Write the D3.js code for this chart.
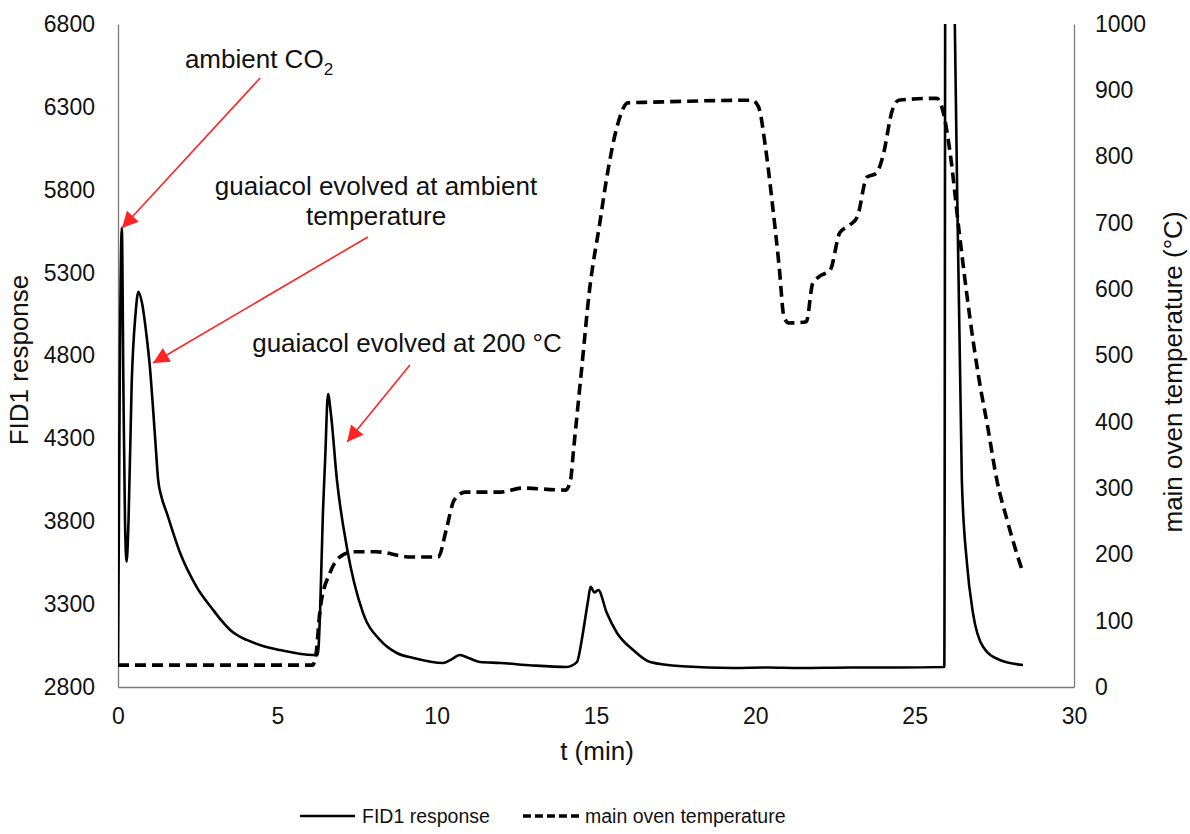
<!DOCTYPE html>
<html>
<head>
<meta charset="utf-8">
<script src="https://cdn.jsdelivr.net/npm/d3@7/dist/d3.min.js"></script>
<style>
  body { margin: 0; background: #fff; }
  svg { display: block; font-family: "Liberation Sans", Arial, sans-serif; }
</style>
</head>
<body>
<svg id="chart" width="1190" height="834"></svg>
<script>
// ---- data ----
const fidTime = [0, 0.06, 0.12, 0.17, 0.22, 0.27, 0.33, 0.43, 0.55, 0.64, 0.75, 0.9, 1.0, 1.1, 1.18, 1.26, 1.36, 1.53, 1.95, 2.47, 2.99, 3.25, 3.52, 3.78, 4.04, 4.5, 5.08, 6.13, 6.27, 6.34, 6.43, 6.5, 6.59, 6.68, 6.87, 7.18, 7.69, 8.22, 8.75, 9.27, 10.2, 10.45, 10.73, 11.0, 11.36, 12.0, 13.0, 14.08, 14.4, 14.55, 14.65, 14.75, 14.83, 14.95, 15.07, 15.34, 15.66, 16.17, 16.7, 17.7, 19.3, 20.4, 21.4, 23.0, 24.5, 25.93, 25.97, 26.14, 26.26, 26.48, 26.64, 26.83, 27.15, 27.67, 28.4];
const fidValue = [2930, 4800, 5570, 4600, 3800, 3556, 3800, 4634, 5050, 5185, 5120, 4913, 4731, 4480, 4260, 4049, 3950, 3850, 3608, 3403, 3264, 3200, 3144, 3108, 3084, 3050, 3023, 2993, 2995, 3246, 3850, 4170, 4568, 4450, 4049, 3645, 3246, 3084, 3005, 2975, 2945, 2965, 2993, 2975, 2951, 2945, 2930, 2921, 2950, 3080, 3200, 3320, 3405, 3370, 3385, 3246, 3126, 3023, 2951, 2925, 2915, 2918, 2915, 2918, 2918, 2921, 8200, 8200, 6800, 4049, 3548, 3246, 3041, 2963, 2933];

const tempTime = [0, 6.1, 6.2, 6.35, 6.65, 6.96, 7.4, 8.1, 9.2, 10.05, 10.3, 10.55, 10.9, 12.0, 12.7, 14.05, 14.2, 14.3, 14.55, 14.8, 15.12, 15.34, 15.66, 16.0, 16.7, 19.9, 20.1, 20.33, 20.52, 20.75, 20.9, 21.05, 21.6, 21.8, 22.0, 22.35, 22.65, 22.97, 23.2, 23.5, 23.8, 24.0, 24.3, 24.5, 25.7, 25.88, 26.1, 26.4, 26.73, 27.0, 27.3, 27.58, 27.9, 28.2, 28.4];
const tempValue = [33, 33, 45, 120, 172, 196, 204, 204, 196, 196, 237, 282, 294, 294, 300, 297, 312, 360, 480, 600, 700, 769, 845, 881, 882, 885, 875, 810, 735, 633, 558, 549, 551, 609, 619, 629, 685, 697, 709, 769, 775, 800, 870, 885, 888, 870, 810, 685, 558, 470, 390, 312, 252, 202, 172];

const xTicks = [0, 5, 10, 15, 20, 25, 30];
const yLeftTicks = [2800, 3300, 3800, 4300, 4800, 5300, 5800, 6300, 6800];
const yRightTicks = [0, 100, 200, 300, 400, 500, 600, 700, 800, 900, 1000];

const seriesNames = ["FID1 response", "main oven temperature"];
const xTitle = "t (min)";
const yLeftTitle = "FID1 response";
const yRightTitle = "main oven temperature (°C)";

// annotations in data coordinates (t, FID)
const annotations = [
  { lines: ["ambient CO|2"], tail: [4.46, 6474], tip: [0.125, 5569] },
  { lines: ["guaiacol evolved at ambient", "temperature"], tail: [7.84, 5515], tip: [1.10, 4755] },
  { lines: ["guaiacol evolved at 200 °C"], tail: [9.16, 4743], tip: [7.19, 4278] }
];

// ---- layout ----
const svg = d3.select("#chart");
const L = 118, R = 1074, T = 24, B = 687;

const x = d3.scaleLinear().domain([0, 30]).range([L, R]);
const yL = d3.scaleLinear().domain([2800, 6800]).range([B, T]);
const yR = d3.scaleLinear().domain([0, 1000]).range([B, T]);

svg.append("defs").append("clipPath").attr("id", "plotclip")
  .append("rect").attr("x", L).attr("y", T).attr("width", R - L).attr("height", B - T);

// axes (lines only, no ticks)
const axisColor = "#7a7a7a";
const gxA = svg.append("g").attr("transform", `translate(0,${B})`)
  .call(d3.axisBottom(x).tickValues(xTicks).tickSize(0).tickPadding(0).tickFormat(d3.format("d")));
gxA.select(".domain").attr("stroke", axisColor).attr("stroke-width", 1.3);
gxA.selectAll("text").attr("font-size", 23).attr("fill", "#111").attr("dy", null).attr("y", 37);

const gyL = svg.append("g").attr("transform", `translate(${L},0)`)
  .call(d3.axisLeft(yL).tickValues(yLeftTicks).tickSize(0).tickPadding(23).tickFormat(d3.format("d")));
gyL.select(".domain").attr("stroke", axisColor).attr("stroke-width", 1.3);
gyL.selectAll("text").attr("font-size", 23).attr("fill", "#111");

const gyR = svg.append("g").attr("transform", `translate(${R},0)`)
  .call(d3.axisRight(yR).tickValues(yRightTicks).tickSize(0).tickPadding(21).tickFormat(d3.format("d")));
gyR.select(".domain").attr("stroke", axisColor).attr("stroke-width", 1.3);
gyR.selectAll("text").attr("font-size", 23).attr("fill", "#111");

// axis titles
svg.append("text").attr("x", 597).attr("y", 760).attr("text-anchor", "middle")
  .attr("font-size", 26).attr("fill", "#111").text(xTitle);
svg.append("text").attr("transform", `translate(28,360) rotate(-90)`).attr("text-anchor", "middle")
  .attr("font-size", 26).attr("fill", "#111").text(yLeftTitle);
svg.append("text").attr("transform", `translate(1182,372) rotate(-90)`).attr("text-anchor", "middle")
  .attr("font-size", 26).attr("fill", "#111").text(yRightTitle);

// series
const fidData = fidTime.map((t, i) => [t, fidValue[i]]);
const tempData = tempTime.map((t, i) => [t, tempValue[i]]);

const plot = svg.append("g").attr("clip-path", "url(#plotclip)");

plot.append("path").datum(tempData)
  .attr("fill", "none").attr("stroke", "#000").attr("stroke-width", 3.6)
  .attr("stroke-dasharray", "11,6")
  .attr("d", d3.line().x(d => x(d[0])).y(d => yR(d[1])).curve(d3.curveMonotoneX));

plot.append("path").datum(fidData)
  .attr("fill", "none").attr("stroke", "#000").attr("stroke-width", 2.6)
  .attr("stroke-linejoin", "round")
  .attr("d", d3.line().x(d => x(d[0])).y(d => yL(d[1])).curve(d3.curveMonotoneX));

// annotations
const red = "#ff2424";
svg.select("defs").append("marker").attr("id", "arrowhead")
  .attr("viewBox", "0 0 10 10").attr("refX", 10).attr("refY", 5)
  .attr("markerWidth", 22).attr("markerHeight", 16).attr("markerUnits", "userSpaceOnUse")
  .attr("orient", "auto")
  .append("path").attr("d", "M0,0 L10,5 L0,10 Z").attr("fill", red);

annotations.forEach(a => {
  svg.append("line")
    .attr("x1", x(a.tail[0])).attr("y1", yL(a.tail[1]))
    .attr("x2", x(a.tip[0])).attr("y2", yL(a.tip[1]))
    .attr("stroke", red).attr("stroke-width", 1.6)
    .attr("marker-end", "url(#arrowhead)");
});

const labelYs = [[68], [195, 225], [352]];
const labelXs = [259, 376, 407];
annotations.forEach((a, i) => {
  a.lines.forEach((ln, j) => {
    const t = svg.append("text").attr("x", labelXs[i]).attr("y", labelYs[i][j])
      .attr("text-anchor", "middle").attr("font-size", 26).attr("fill", "#111");
    if (ln.includes("|")) {
      const parts = ln.split("|");
      t.append("tspan").text(parts[0]);
      t.append("tspan").attr("font-size", 17).attr("dy", 7).text(parts[1]);
    } else {
      t.text(ln);
    }
  });
});

// legend
const lg = svg.append("g");
lg.append("line").attr("x1", 300).attr("x2", 355).attr("y1", 816).attr("y2", 816)
  .attr("stroke", "#000").attr("stroke-width", 2.4);
lg.append("text").attr("x", 362).attr("y", 823).attr("font-size", 19.5).attr("fill", "#111").text(seriesNames[0]);
lg.append("line").attr("x1", 523).attr("x2", 582).attr("y1", 816).attr("y2", 816)
  .attr("stroke", "#000").attr("stroke-width", 3.6).attr("stroke-dasharray", "8,4");
lg.append("text").attr("x", 585).attr("y", 823).attr("font-size", 19.5).attr("fill", "#111").text(seriesNames[1]);
</script>
</body>
</html>
